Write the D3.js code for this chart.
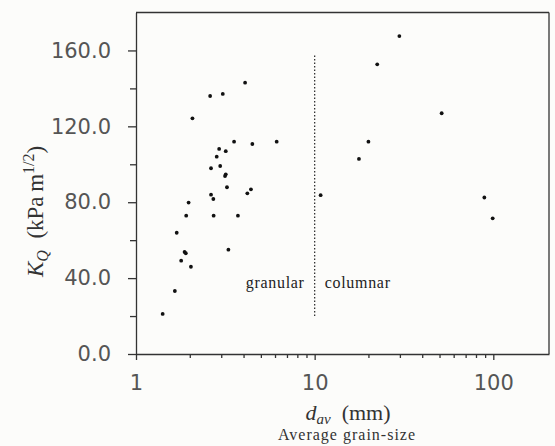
<!DOCTYPE html>
<html>
<head>
<meta charset="utf-8">
<script src="https://cdn.jsdelivr.net/npm/d3@7"></script>
<style>
	body { margin: 0; background: #fcfcfa; }
	svg { display: block; }
</style>
</head>
<body>
<div id="chart"></div>
<script>
// grain size (mm) and toughness K_Q (kPa m^1/2)
var granular_size = [1.41, 1.65, 1.69, 1.79, 1.87, 1.90, 1.91, 1.97, 2.03, 2.07,
	2.60, 3.06, 4.08, 3.54, 4.48, 6.13, 2.92, 3.18, 2.83, 2.63,
	2.96, 3.18, 3.15, 3.23, 2.63, 2.71, 4.20, 4.40, 2.72, 3.72, 3.29];
var granular_kq = [21.1, 33.2, 63.9, 49.2, 53.8, 53.1, 72.9, 79.8, 46.0, 124.2,
	136.0, 137.1, 143.0, 111.9, 110.7, 111.9, 108.1, 106.9, 104.0, 97.9,
	99.1, 94.7, 93.8, 87.9, 84.0, 81.7, 84.7, 86.8, 72.9, 72.9, 55.0];

var columnar_size = [10.8, 17.7, 20.0, 22.4, 29.8, 51.4, 89.1, 99.2];
var columnar_kq = [83.7, 102.8, 111.9, 152.7, 167.6, 126.9, 82.5, 71.5];

var x_major = [1, 10, 100];
var x_minor = [2, 3, 4, 5, 6, 7, 8, 9, 20, 30, 40, 50, 60, 70, 80, 90];
var y_major = [0, 40, 80, 120, 160];
var y_minor = [20, 60, 100, 140];

var boundary_size = 10;
var boundary_kq = [20, 158];

var width = 555, height = 446;

var svg = d3.select("#chart").append("svg")
	.attr("width", width)
	.attr("height", height);

var x = d3.scaleLog().domain([1, 205]).range([136, 549]);
var y = d3.scaleLinear().domain([0, 180]).range([354, 12.5]);

var ink = "#333";
var label_ink = "#555";

// frame
var frame = svg.append("g").attr("stroke", ink).attr("stroke-width", 1.3).attr("fill", "none");
frame.append("line").attr("x1", x(1)).attr("x2", x(205)).attr("y1", y(180)).attr("y2", y(180));
frame.append("line").attr("x1", x(205)).attr("x2", x(205)).attr("y1", y(180)).attr("y2", y(0));

// x axis
svg.append("g")
	.attr("transform", "translate(0," + y(0) + ")")
	.call(d3.axisBottom(x).tickValues(x_major).tickSize(6).tickSizeOuter(0).tickFormat(d3.format("d")).tickPadding(15));
svg.append("g")
	.attr("transform", "translate(0," + y(0) + ")")
	.call(d3.axisBottom(x).tickValues(x_minor).tickSize(4).tickFormat(""))
	.select(".domain").remove();

// y axis
svg.append("g")
	.attr("transform", "translate(" + x(1) + ",0)")
	.call(d3.axisLeft(y).tickValues(y_major).tickSize(8).tickSizeOuter(0).tickFormat(d3.format(".1f")).tickPadding(17));
svg.append("g")
	.attr("transform", "translate(" + x(1) + ",0)")
	.call(d3.axisLeft(y).tickValues(y_minor).tickSize(6).tickFormat(""))
	.select(".domain").remove();

svg.selectAll(".domain, .tick line").attr("stroke", ink).attr("stroke-width", 1.3);
svg.selectAll(".tick text")
	.attr("fill", label_ink)
	.style("font-family", "'DejaVu Sans', sans-serif")
	.style("font-size", "21px");

// granular / columnar boundary
svg.append("line")
	.attr("x1", x(boundary_size)).attr("x2", x(boundary_size))
	.attr("y1", y(boundary_kq[0])).attr("y2", y(boundary_kq[1]))
	.attr("stroke", ink)
	.attr("stroke-width", 1.3)
	.attr("stroke-dasharray", "1.5,2");

var serif = "'Liberation Serif', 'DejaVu Serif', serif";

svg.append("text")
	.attr("x", x(boundary_size) - 10).attr("y", y(35))
	.attr("text-anchor", "end")
	.attr("fill", "#222")
	.style("font-family", serif).style("font-size", "16px").style("letter-spacing", "0.7px")
	.text("granular");
svg.append("text")
	.attr("x", x(boundary_size) + 10).attr("y", y(35))
	.attr("fill", "#222")
	.style("font-family", serif).style("font-size", "16px").style("letter-spacing", "0.7px")
	.text("columnar");

// points
var points = [];
granular_size.forEach(function(d, i) { points.push({size: d, kq: granular_kq[i]}); });
columnar_size.forEach(function(d, i) { points.push({size: d, kq: columnar_kq[i]}); });

svg.append("g").selectAll("circle")
	.data(points)
	.enter()
		.append("circle")
			.attr("cx", function(d) { return x(d.size); })
			.attr("cy", function(d) { return y(d.kq); })
			.attr("r", 1.9)
			.attr("fill", "#111");

// axis titles
var y_title = svg.append("text")
	.attr("transform", "translate(43,277) rotate(-90)")
	.attr("fill", "#333")
	.style("font-family", serif).style("font-size", "23px");
y_title.append("tspan").style("font-style", "italic").text("K");
y_title.append("tspan").style("font-style", "italic").style("font-size", "16px").attr("dy", 5).text("Q");
y_title.append("tspan").attr("dy", -5).text("\u00a0\u00a0(kPa\u2009m");
y_title.append("tspan").style("font-size", "16px").attr("dy", -9).text("1/2");
y_title.append("tspan").attr("dy", 9).text(")");

var x_title = svg.append("text")
	.attr("x", 348).attr("y", 420)
	.attr("text-anchor", "middle")
	.attr("fill", "#333")
	.style("font-family", serif).style("font-size", "22px");
x_title.append("tspan").style("font-style", "italic").text("d");
x_title.append("tspan").style("font-style", "italic").style("font-size", "15px").attr("dy", 4).text("av");
x_title.append("tspan").attr("dy", -4).text("\u00a0\u00a0(mm)");

svg.append("text")
	.attr("x", 347).attr("y", 440)
	.attr("text-anchor", "middle")
	.attr("fill", "#333")
	.style("font-family", serif).style("font-size", "16px").style("letter-spacing", "1px")
	.text("Average grain-size");
</script>
</body>
</html>
